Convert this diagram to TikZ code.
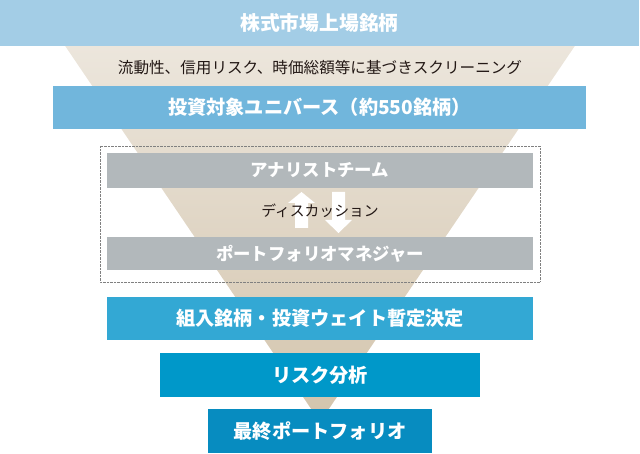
\documentclass[tikz,border=0pt]{standalone}
\usepackage{fontspec}
\setmainfont{Noto Sans CJK JP}
\usepackage{tikz}
\usepackage{xcolor}
\definecolor{barTop}{HTML}{A3CDE6}
\definecolor{barUniv}{HTML}{71B6DC}
\definecolor{barGray}{HTML}{B2B8BB}
\definecolor{barWeight}{HTML}{33A8D4}
\definecolor{barRisk}{HTML}{0098C9}
\definecolor{barFinal}{HTML}{078CC0}
\definecolor{funTop}{HTML}{EFEAE2}
\definecolor{funBot}{HTML}{D3C4AC}
\definecolor{inkDark}{HTML}{231815}

\begin{document}
\begin{tikzpicture}[x=1pt,y=-1pt,
    stagebox/.style={fill=#1,text=white,inner sep=0pt,
      font=\fontsize{19.2}{19.2}\selectfont\bfseries},
    teambox/.style={fill=barGray,text=white,inner sep=0pt,
      minimum width=426pt,font=\fontsize{17.4}{17.4}\selectfont\bfseries},
    note/.style={text=inkDark,inner sep=0pt,font=\fontsize{#1}{#1}\selectfont}]
  \useasboundingbox (0,0) rectangle (640,454);
  % funnel behind everything
  \shade[top color=funTop,bottom color=funBot] (34,0) -- (606,0) -- (320,422) -- cycle;
  \node (mkt) [stagebox=barTop,minimum width=639pt,minimum height=46pt,font=\fontsize{19.8}{19.8}\selectfont\bfseries] at (319.5,23) {株式市場上場銘柄};
  \node (scr) [note=15.6] at (320,68) {流動性、信用リスク、時価総額等に基づきスクリーニング};
  \node (univ) [stagebox=barUniv,minimum width=533pt,minimum height=43pt] at (319.5,107.5) {投資対象ユニバース（約550銘柄）};
  \draw [gray,densely dotted] (100,146) rectangle (540,282);
  \node (team) [teambox,minimum height=35pt] at (320,170.5) {アナリストチーム};
  \node (pm) [teambox,minimum height=33pt] at (320,253.5) {ポートフォリオマネジャー};
  % two-way discussion arrows
  \fill [white] (301.5,192) -- (315,203) -- (308,203) -- (308,228) -- (295,228) -- (295,203) -- (288,203) -- cycle;
  \fill [white] (338.5,233) -- (352,220) -- (345,220) -- (345,192) -- (332,192) -- (332,220) -- (325,220) -- cycle;
  \node (disc) [note=14.8] at (320,211) {ディスカッション};
  \node (wgt) [stagebox=barWeight,minimum width=426pt,minimum height=43pt] at (320,318.5) {組入銘柄・投資ウェイト暫定決定};
  \node (risk) [stagebox=barRisk,minimum width=320pt,minimum height=44pt] at (320,375) {リスク分析};
  \node (fin) [stagebox=barFinal,minimum width=224pt,minimum height=44pt] at (320,431) {最終ポートフォリオ};
\end{tikzpicture}
\end{document}
